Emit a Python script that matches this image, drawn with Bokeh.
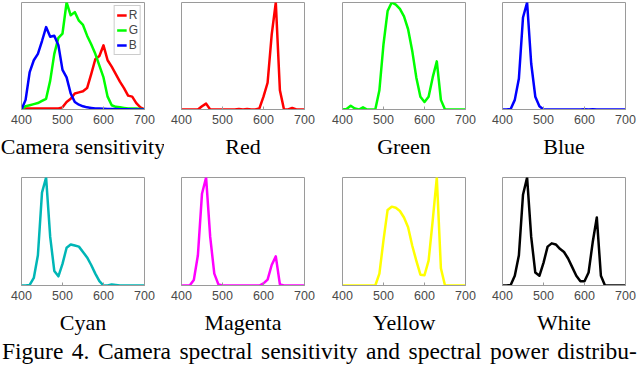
from bokeh.plotting import figure
from bokeh.models import Range1d, FixedTicker, Legend, LegendItem, Div
from bokeh.layouts import column, row
from bokeh.embed import file_html
from bokeh.resources import INLINE

# ---------------- data ----------------
wavelength = [400, 410, 420, 430, 440, 450, 460, 470, 480, 490, 500, 510, 520, 530, 540, 550,
              560, 570, 580, 590, 600, 610, 620, 630, 640, 650, 660, 670, 680, 690, 700]
x_ticks = [400, 500, 600, 700]

cam_R = [0, 0.01, 0.01, 0.01, 0.01, 0.01, 0.01, 0.01, 0.01, 0.01, 0.02, 0.07, 0.10, 0.15, 0.16, 0.17,
         0.20, 0.33, 0.47, 0.50, 0.60, 0.46, 0.40, 0.33, 0.26, 0.20, 0.13, 0.12, 0.06, 0.02, 0]
cam_G = [0, 0.03, 0.04, 0.05, 0.06, 0.08, 0.10, 0.27, 0.52, 0.67, 0.71, 1.0, 0.88, 0.91, 0.83, 0.79,
         0.69, 0.61, 0.52, 0.41, 0.30, 0.12, 0.04, 0.025, 0.02, 0.015, 0.01, 0.01, 0.01, 0.005, 0]
cam_B = [0, 0.09, 0.35, 0.46, 0.52, 0.64, 0.77, 0.68, 0.69, 0.60, 0.37, 0.30, 0.15, 0.07, 0.045, 0.03,
         0.02, 0.015, 0.01, 0.01, 0.008, 0.005, 0.005, 0.004, 0.003, 0.002, 0.002, 0.001, 0.001, 0, 0]

red_spd = [0, 0, 0, 0, 0, 0.03, 0.055, 0, 0, 0, 0, 0, 0, 0, 0.005, 0,
           0.004, 0, 0, 0.01, 0.12, 0.25, 0.70, 1.0, 0.18, 0, 0, 0.015, 0, 0, 0]
green_spd = [0, 0.005, 0.035, 0.01, 0, 0.02, 0, 0, 0, 0.18, 0.61, 0.92, 1.0, 0.98, 0.94, 0.87,
             0.75, 0.55, 0.30, 0.12, 0.07, 0.12, 0.30, 0.45, 0.09, 0, 0, 0, 0, 0, 0]
blue_spd = [0, 0, 0.005, 0.09, 0.29, 0.86, 1.0, 0.43, 0.12, 0.03, 0, 0, 0, 0, 0, 0,
            0, 0, 0, 0, 0.003, 0, 0.003, 0, 0, 0, 0, 0, 0, 0, 0]
cyan_spd = [0, 0, 0.005, 0.07, 0.28, 0.86, 1.0, 0.45, 0.135, 0.085, 0.20, 0.35, 0.38, 0.37, 0.36, 0.31,
            0.26, 0.19, 0.11, 0.04, 0, 0, 0.01, 0.005, 0, 0, 0, 0, 0, 0, 0]
magenta_spd = [0, 0, 0, 0.05, 0.28, 0.85, 1.0, 0.45, 0.11, 0.01, 0, 0, 0, 0, 0, 0,
               0, 0, 0, 0, 0.02, 0.055, 0.19, 0.27, 0.01, 0, 0, 0, 0, 0, 0]
yellow_spd = [0, 0, 0, 0, 0, 0, 0, 0, 0, 0.11, 0.42, 0.70, 0.73, 0.72, 0.69, 0.63,
              0.54, 0.37, 0.23, 0.10, 0.095, 0.23, 0.60, 1.0, 0.16, 0, 0, 0, 0, 0, 0]
white_spd = [0, 0, 0.005, 0.09, 0.28, 0.84, 1.0, 0.45, 0.12, 0.09, 0.21, 0.36, 0.39, 0.38, 0.34, 0.31,
             0.25, 0.17, 0.09, 0.04, 0.04, 0.12, 0.40, 0.63, 0.09, 0, 0, 0, 0, 0, 0]

panel_titles = ["Camera sensitivity", "Red", "Green", "Blue", "Cyan", "Magenta", "Yellow", "White"]
caption = "Figure 4. Camera spectral sensitivity and spectral power distribu-"

AX = "#9a9a9a"
TICK_COL = "#4a4a4a"
SERIF = "Liberation Serif"
SANS = "Liberation Sans"
LW = 2.5

# per column: (figure width, left border, right border)
col_geom = [(164, 21, 20), (156, 17, 16), (160, 22, 15), (160, 22, 15)]


def make_panel(ci, title, series, top, frame_h, bottom, legend=False):
    w, lb, rb = col_geom[ci]
    p = figure(width=w, height=top + frame_h + bottom, output_backend="svg", toolbar_location=None,
               x_range=Range1d(400, 700), y_range=Range1d(0, 1),
               min_border_left=lb, min_border_right=rb, min_border_top=top, min_border_bottom=bottom,
               background_fill_color="white", border_fill_color="white")
    p.grid.visible = False
    p.yaxis.visible = False
    p.outline_line_color = AX
    p.outline_line_width = 1
    xa = p.xaxis[0]
    xa.ticker = FixedTicker(ticks=x_ticks)
    xa.axis_line_color = AX
    xa.major_tick_line_color = AX
    xa.major_tick_in = 3
    xa.major_tick_out = 0
    xa.minor_tick_line_color = None
    xa.major_label_text_font = SANS
    xa.major_label_text_font_size = "12.5px"
    xa.major_label_text_color = TICK_COL
    xa.major_label_standoff = 5
    xa.axis_label = title
    xa.axis_label_text_font = SERIF
    xa.axis_label_text_font_style = "normal"
    xa.axis_label_text_font_size = "22px"
    xa.axis_label_text_color = "black"
    xa.axis_label_standoff = 7
    items = []
    for vals, color, lab in series:
        r = p.line(wavelength, vals, line_color=color, line_width=LW, line_join="round")
        items.append(LegendItem(label=lab, renderers=[r]))
    if legend:
        lg = Legend(items=items, location="top_right", border_line_color=AX,
                    label_text_font=SANS, label_text_font_size="12px",
                    glyph_width=10, glyph_height=10, label_standoff=2, spacing=1,
                    padding=2, margin=3, label_height=10, label_width=9,
                    background_fill_alpha=1)
        p.add_layout(lg)
    return p


ROW1 = dict(top=2, frame_h=107, bottom=61)
ROW2 = dict(top=7, frame_h=108, bottom=52)

p1 = make_panel(0, panel_titles[0], [(cam_R, "#ff0000", "R"), (cam_G, "#00ff00", "G"), (cam_B, "#0000ff", "B")],
                legend=True, **ROW1)
p2 = make_panel(1, panel_titles[1], [(red_spd, "#ff0000", "Red")], **ROW1)
p3 = make_panel(2, panel_titles[2], [(green_spd, "#00ff00", "Green")], **ROW1)
p4 = make_panel(3, panel_titles[3], [(blue_spd, "#0000ff", "Blue")], **ROW1)
p5 = make_panel(0, panel_titles[4], [(cyan_spd, "#00b6b6", "Cyan")], **ROW2)
p6 = make_panel(1, panel_titles[5], [(magenta_spd, "#ff00ff", "Magenta")], **ROW2)
p7 = make_panel(2, panel_titles[6], [(yellow_spd, "#ffff00", "Yellow")], **ROW2)
p8 = make_panel(3, panel_titles[7], [(white_spd, "#000000", "White")], **ROW2)

cap = Div(text=caption, width=640, height=29, margin=(0, 0, 0, 0),
          styles={"font-family": SERIF, "font-size": "23.5px", "white-space": "nowrap",
                  "line-height": "28px", "color": "black", "word-spacing": "2.6px",
                  "padding-left": "2px"})

layout = column(row(p1, p2, p3, p4, spacing=0), row(p5, p6, p7, p8, spacing=0), cap, spacing=0)

open("out.html", "w").write(file_html(layout, INLINE))
